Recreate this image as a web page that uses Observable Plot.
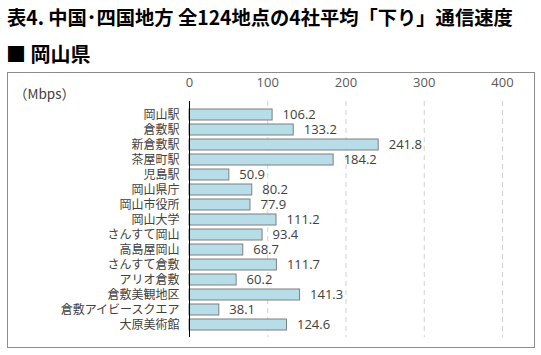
<!DOCTYPE html>
<html>
<head>
<meta charset="utf-8">
<script src="https://cdn.jsdelivr.net/npm/d3@7"></script>
<script src="https://cdn.jsdelivr.net/npm/@observablehq/plot@0.6"></script>
<style>
  html, body { margin: 0; padding: 0; background: #fff; }
  body { width: 541px; height: 355px; position: relative; overflow: hidden; font-family: "Noto Sans CJK JP", sans-serif; }
  #title { position: absolute; left: 7px; top: 3px; font-size: 19.3px; font-weight: bold; color: #000; white-space: nowrap; }
  #subtitle { position: absolute; left: 6px; top: 39px; font-size: 20px; font-weight: bold; color: #000; white-space: nowrap; }
  #box { position: absolute; left: 7px; top: 72px; width: 526px; height: 274px; border: 1px solid #8c8c8c; }
  #box svg { display: block; overflow: visible; }
  #unit { position: absolute; left: 6px; top: 10px; font-size: 13.5px; color: #404040; font-family: "Noto Sans CJK JP", sans-serif; }
</style>
</head>
<body>
<div id="title">表4. 中国･四国地方 全124地点の4社平均「下り」通信速度</div>
<div id="subtitle">■ 岡山県</div>
<div id="box"><div id="unit">（Mbps）</div></div>
<script>
const categories = ["岡山駅","倉敷駅","新倉敷駅","茶屋町駅","児島駅","岡山県庁","岡山市役所","岡山大学","さんすて岡山","高島屋岡山","さんすて倉敷","アリオ倉敷","倉敷美観地区","倉敷アイビースクエア","大原美術館"];
const values = [106.2,133.2,241.8,184.2,50.9,80.2,77.9,111.2,93.4,68.7,111.7,60.2,141.3,38.1,124.6];
const xTicks = [0,100,200,300,400];
const gridTicks = [100,200,300,400];

const data = categories.map((c, i) => ({name: c, value: values[i]}));

const chart = Plot.plot({
  width: 526,
  height: 274,
  marginLeft: 181,
  marginRight: 32,
  marginTop: 28,
  marginBottom: 10,
  style: {fontFamily: "'Open Sans', sans-serif", background: "transparent"},
  x: {domain: [0, 400]},
  y: {domain: categories, padding: 0.3},
  marks: [
    Plot.ruleX(gridTicks, {stroke: "#d0d0d0", strokeDasharray: "5,4"}),
    Plot.barX(data, {x: "value", y: "name", fill: "#b7dde8", stroke: "#7f7f7f", strokeWidth: 1}),
    Plot.ruleX([0], {stroke: "#000", strokeWidth: 1}),
    Plot.text(data, {x: "value", y: "name", text: d => d.value.toFixed(1), dx: 10, textAnchor: "start", fontSize: 13, fill: "#404040", fontFamily: "'Open Sans', sans-serif"}),
    Plot.axisX({anchor: "top", ticks: xTicks, tickSize: 0, tickPadding: 15, label: null, fontSize: 13, color: "#595959", fontFamily: "'Open Sans', sans-serif"}),
    Plot.axisY({anchor: "left", tickSize: 0, tickPadding: 10, label: null, fontSize: 12, color: "#404040", fontFamily: "'Noto Sans CJK JP', sans-serif"})
  ]
});
document.getElementById("box").appendChild(chart);
</script>
</body>
</html>
